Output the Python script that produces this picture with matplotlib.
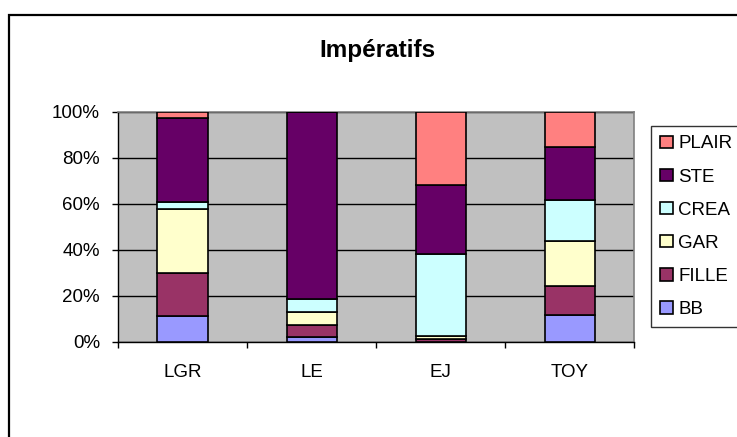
import matplotlib
matplotlib.use("Agg")
import matplotlib.pyplot as plt
from matplotlib.patches import Patch, Rectangle
import numpy as np

plt.rcParams['font.family'] = ['Liberation Sans', 'DejaVu Sans']

categories = ["LGR", "LE", "EJ", "TOY"]
series_names = ["BB", "FILLE", "GAR", "CREA", "STE", "PLAIR"]
bb = [10.9, 1.8, 0.0, 11.5]
fille = [18.9, 5.5, 0.9, 12.6]
gar = [27.9, 5.7, 1.4, 19.5]
crea = [3.3, 5.5, 35.8, 18.2]
ste = [36.2, 81.5, 29.9, 23.0]
plair = [2.8, 0.0, 32.0, 15.2]
y_ticks = [0, 20, 40, 60, 80, 100]

colors = ["#9999FF", "#993366", "#FFFFCC", "#CCFFFF", "#660066", "#FF8080"]
series = [bb, fille, gar, crea, ste, plair]

fig = plt.figure(figsize=(7.37, 4.37), dpi=100)
fig.patch.set_facecolor("white")

# outer chart border (only top and left visible in frame)
fig.add_artist(Rectangle((9 / 737, -0.1), 1.2, 1 - 15 / 437 + 0.1,
                         transform=fig.transFigure, fill=False,
                         edgecolor="black", linewidth=1.6))

ax = fig.add_axes([118 / 737, 1 - 341.5 / 437, (634.5 - 118) / 737, (341.5 - 112) / 437])
ax.set_facecolor("#C0C0C0")

x = np.arange(len(categories))
vals = np.array(series, dtype=float)
totals = vals.sum(axis=0)
pct = vals / totals * 100
bottom = np.zeros(len(categories))
for name, v, c in zip(series_names, pct, colors):
    ax.bar(x, v, bottom=bottom, width=0.39, color=c, edgecolor="black",
           linewidth=1.2, label=name, zorder=3)
    bottom += v

ax.set_xlim(-0.5, len(categories) - 0.5)
ax.set_ylim(0, 100)
ax.set_yticks(y_ticks)
ax.set_yticklabels([f"{t}%" for t in y_ticks], fontsize=13.5)
ax.yaxis.grid(True, color="black", linewidth=1.0, zorder=1)
ax.set_axisbelow(True)

ax.set_xticks(x)
ax.set_xticklabels(categories, fontsize=13.5)
ax.set_xticks(np.arange(-0.5, len(categories)), minor=True)
ax.tick_params(axis="x", which="major", length=0, pad=16)
ax.tick_params(axis="x", which="minor", length=4.5, width=1, direction="out")
ax.tick_params(axis="y", length=4, width=1, direction="out", pad=9)

for s in ["top", "right"]:
    ax.spines[s].set_color("#808080")
    ax.spines[s].set_linewidth(1.2)
for s in ["left", "bottom"]:
    ax.spines[s].set_color("black")
    ax.spines[s].set_linewidth(1.0)

fig.text(377 / 737, 1 - 50 / 437, "Impératifs", ha="center", va="center",
         fontsize=17.5, fontweight="bold")

handles = [Patch(facecolor=c, edgecolor="black", linewidth=1.2, label=n)
           for n, c in zip(series_names, colors)]
leg = fig.legend(handles[::-1], series_names[::-1], loc="upper left",
                 bbox_to_anchor=(651 / 737, 1 - 126 / 437),
                 fontsize=13.5, frameon=True, fancybox=False,
                 edgecolor="black", handlelength=0.65, handleheight=0.65,
                 handletextpad=0.3, labelspacing=0.86, borderpad=0.5,
                 borderaxespad=0)
leg.get_frame().set_linewidth(1.0)

fig.savefig("out.png", dpi=100)
